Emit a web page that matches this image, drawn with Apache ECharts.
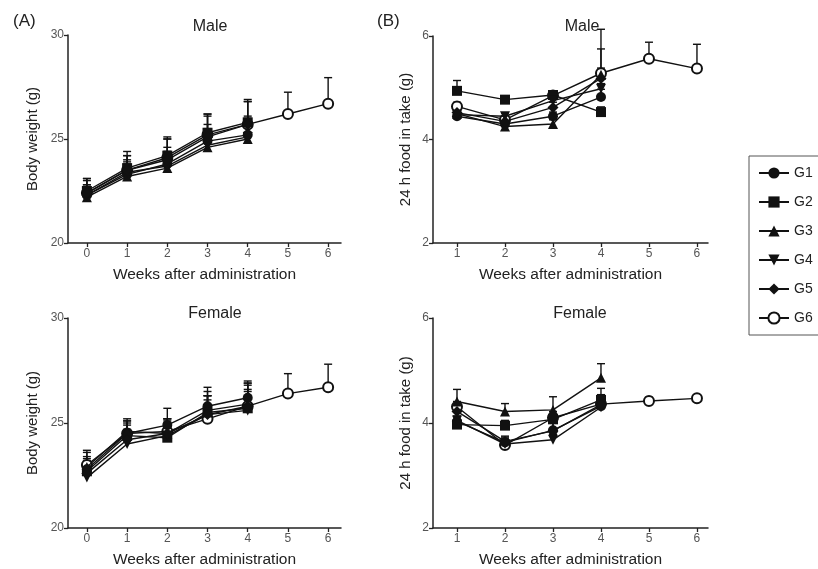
<!DOCTYPE html>
<html>
<head>
    <meta charset="utf-8"/>
    <title></title>
    <script src="https://cdn.jsdelivr.net/npm/echarts@6/dist/echarts.min.js"></script>
</head>
<body style="margin:0;background:#fff;">
<div id="main" style="width:818px;height:569px;"></div>
<script type="text/javascript">
    /* 数据 */
    var groups = ['G1', 'G2', 'G3', 'G4', 'G5', 'G6'];
    var bwWeeks = [0, 1, 2, 3, 4, 5, 6];
    var foodWeeks = [1, 2, 3, 4, 5, 6];

    // body weight, male (mean / upper SD)
    var bwMale = [
        [22.3, 23.3, 23.8, 24.9, 25.2],
        [22.5, 23.6, 24.2, 25.3, 25.8],
        [22.2, 23.2, 23.6, 24.6, 25.0],
        [22.3, 23.4, 23.7, 24.7, 25.1],
        [22.4, 23.5, 24.0, 25.1, 25.7],
        [22.4, 23.5, 24.1, 25.2, 25.7, 26.2, 26.7]
    ];
    var bwMaleErr = [
        [0.5, 0.6, 0.8, 0.8, 0.9],
        [0.6, 0.8, 0.9, 0.9, 1.1],
        [0.5, 0.6, 0.8, 0.8, 0.9],
        [0.5, 0.6, 0.7, 0.8, 0.9],
        [0.6, 0.7, 1.0, 1.0, 1.1],
        [0.7, 0.7, 0.9, 1.0, 1.1, 1.05, 1.25]
    ];
    // body weight, female
    var bwFemale = [
        [22.8, 24.5, 24.9, 25.8, 26.2],
        [22.7, 24.4, 24.3, 25.5, 25.7],
        [22.9, 24.6, 24.5, 25.6, 25.9],
        [22.4, 24.0, 24.4, 25.4, 25.6],
        [22.6, 24.2, 24.5, 25.4, 25.8],
        [23.0, 24.5, 24.6, 25.2, 25.8, 26.4, 26.7]
    ];
    var bwFemaleErr = [
        [0.6, 0.6, 0.8, 0.9, 0.8],
        [0.6, 0.6, 0.7, 0.8, 0.9],
        [0.7, 0.6, 0.7, 0.9, 1.0],
        [0.6, 0.7, 0.7, 0.7, 0.9],
        [0.6, 0.7, 0.7, 0.9, 1.0],
        [0.7, 0.6, 0.6, 1.1, 1.1, 0.95, 1.1]
    ];
    // 24 h food intake, male
    var foodMale = [
        [4.45, 4.30, 4.45, 4.82],
        [4.94, 4.77, 4.86, 4.53],
        [4.50, 4.25, 4.30, 5.25],
        [4.48, 4.45, 4.75, 4.98],
        [4.52, 4.35, 4.62, 5.18],
        [4.64, 4.38, 4.85, 5.28, 5.56, 5.37]
    ];
    var foodMaleErr = [
        [0.05, 0.06, 0.08, 0.15],
        [0.20, 0.06, 0.05, 0.10],
        [0.05, 0.05, 0.08, 0.50],
        [0.05, 0.06, 0.08, 0.10],
        [0.06, 0.06, 0.10, 0.20],
        [0.08, 0.06, 0.05, 0.85, 0.32, 0.47]
    ];
    // 24 h food intake, female
    var foodFemale = [
        [4.03, 3.63, 3.86, 4.32],
        [3.97, 3.95, 4.07, 4.44],
        [4.41, 4.22, 4.25, 4.86],
        [4.05, 3.60, 3.68, 4.30],
        [4.22, 3.65, 3.85, 4.35],
        [4.31, 3.58, 4.10, 4.36, 4.42, 4.47]
    ];
    var foodFemaleErr = [
        [0.10, 0.10, 0.15, 0.10],
        [0.08, 0.10, 0.10, 0.10],
        [0.23, 0.15, 0.25, 0.27],
        [0.08, 0.10, 0.10, 0.08],
        [0.10, 0.10, 0.15, 0.12],
        [0.10, 0.10, 0.12, 0.30, 0.07, 0.00]
    ];

    var symbols = ['circle', 'rect', 'triangle', 'path://M0,0 L10,0 L5,9 Z', 'diamond', 'emptyCircle'];
    var symSizes = [10, 10, 10, 10, 11, 10];
    var font = 'Liberation Sans, Arial, sans-serif';

    var chart = echarts.init(document.getElementById('main'));

    /* 误差线 */
    function errRender(params, api) {
        var x = api.value(0), y = api.value(1), e = api.value(2);
        var p0 = api.coord([x, y]);
        var p1 = api.coord([x, y + e]);
        var st = {stroke: '#111', lineWidth: 1.4};
        return {
            type: 'group', children: [
                {type: 'line', shape: {x1: p0[0], y1: p0[1], x2: p1[0], y2: p1[1]}, style: st},
                {type: 'line', shape: {x1: p1[0] - 4, y1: p1[1], x2: p1[0] + 4, y2: p1[1]}, style: st}
            ]
        };
    }

    function xAxisOf(idx, min, max, ticks) {
        return {
            type: 'value', gridIndex: idx, min: min, max: max,
            splitLine: {show: false},
            axisLine: {onZero: false, lineStyle: {color: '#222', width: 1.5}},
            axisTick: {customValues: ticks, length: 4, lineStyle: {color: '#222', width: 1.3}},
            axisLabel: {customValues: ticks, color: '#555', fontSize: 12, fontFamily: font, margin: 5},
            name: 'Weeks after administration', nameLocation: 'middle', nameGap: 24,
            nameTextStyle: {color: '#222', fontSize: 15.5, fontFamily: font}
        };
    }

    function yAxisOf(idx, min, max, interval, name, gap) {
        return {
            type: 'value', gridIndex: idx, min: min, max: max, interval: interval,
            splitLine: {show: false},
            axisLine: {show: true, onZero: false, lineStyle: {color: '#222', width: 1.5}},
            axisTick: {show: true, length: 4, lineStyle: {color: '#222', width: 1.3}},
            axisLabel: {color: '#555', fontSize: 12, fontFamily: font, margin: 4},
            name: name, nameLocation: 'middle', nameGap: gap,
            nameTextStyle: {color: '#222', fontSize: 15, fontFamily: font}
        };
    }

    var series = [];
    function addPanel(idx, weeks, vals, errs) {
        for (var g = 0; g < groups.length; g++) {
            var pts = [], eb = [];
            for (var i = 0; i < vals[g].length; i++) {
                pts.push([weeks[i], vals[g][i]]);
                eb.push([weeks[i], vals[g][i], errs[g][i]]);
            }
            series.push({
                name: 'err' + idx + g, type: 'custom', xAxisIndex: idx, yAxisIndex: idx,
                renderItem: errRender, data: eb, z: 1, silent: true
            });
            series.push({
                name: groups[g], type: 'line', xAxisIndex: idx, yAxisIndex: idx,
                data: pts, symbol: symbols[g], symbolSize: symSizes[g], showAllSymbol: true,
                lineStyle: {color: '#111', width: 1.4},
                itemStyle: {color: '#111', borderColor: '#111', borderWidth: g === 5 ? 1.4 : 0},
                // 空心圆放在最底层
                z: g === 5 ? 2 : 3 + g, animation: false
            });
        }
    }
    addPanel(0, bwWeeks, bwMale, bwMaleErr);
    addPanel(1, bwWeeks, bwFemale, bwFemaleErr);
    addPanel(2, foodWeeks, foodMale, foodMaleErr);
    addPanel(3, foodWeeks, foodFemale, foodFemaleErr);

    var titleStyle = {color: '#222', fontSize: 16, fontWeight: 'normal', fontFamily: font};
    var option = {
        animation: false,
        backgroundColor: '#fff',
        title: [
            {text: 'Male', left: 205, top: 14, textAlign: 'center', textStyle: titleStyle},
            {text: 'Female', left: 210, top: 301, textAlign: 'center', textStyle: titleStyle},
            {text: 'Male', left: 577, top: 14, textAlign: 'center', textStyle: titleStyle},
            {text: 'Female', left: 575, top: 301, textAlign: 'center', textStyle: titleStyle},
            {text: '(A)', left: 8, top: 8, textStyle: {color: '#222', fontSize: 17, fontWeight: 'normal', fontFamily: font}},
            {text: '(B)', left: 372, top: 8, textStyle: {color: '#222', fontSize: 17, fontWeight: 'normal', fontFamily: font}}
        ],
        legend: {
            data: groups, orient: 'vertical', left: 749, top: 156,
            padding: [10, 8, 10, 9], itemGap: 15, itemWidth: 30, itemHeight: 14,
            borderColor: '#555', borderWidth: 1, borderRadius: 0,
            textStyle: {color: '#222', fontSize: 14, fontFamily: font}
        },
        grid: [
            {left: 68, top: 35, width: 273, height: 208},
            {left: 68, top: 318, width: 273, height: 210},
            {left: 433, top: 36, width: 275, height: 207},
            {left: 433, top: 318, width: 275, height: 210}
        ],
        xAxis: [
            xAxisOf(0, -0.47, 6.32, [0, 1, 2, 3, 4, 5, 6]),
            xAxisOf(1, -0.47, 6.32, [0, 1, 2, 3, 4, 5, 6]),
            xAxisOf(2, 0.5, 6.23, [1, 2, 3, 4, 5, 6]),
            xAxisOf(3, 0.5, 6.23, [1, 2, 3, 4, 5, 6])
        ],
        yAxis: [
            yAxisOf(0, 20, 30, 5, 'Body weight (g)', 28),
            yAxisOf(1, 20, 30, 5, 'Body weight (g)', 28),
            yAxisOf(2, 2, 6, 2, '24 h food in take (g)', 20),
            yAxisOf(3, 2, 6, 2, '24 h food in take (g)', 20)
        ],
        series: series
    };
    chart.setOption(option);
</script>
</body>
</html>
